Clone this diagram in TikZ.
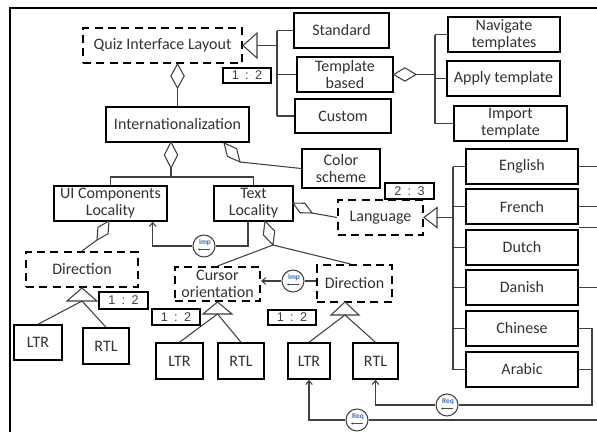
\documentclass[tikz,border=0pt]{standalone}
\usepackage{fontspec}
\setmainfont{Carlito}
\newfontfamily\ratiofont{Liberation Sans}
\usetikzlibrary{calc,arrows.meta}
\newcommand\dmd[3]{\draw[hollow] (#1) -- ($(#1)!0.5!(#2)!#3!90:(#2)$) -- (#2) -- ($(#1)!0.5!(#2)!#3!-90:(#2)$) -- cycle;}
\begin{document}
\begin{tikzpicture}[x=0.75pt,y=-0.75pt,
  basebox/.style={line width=1.1pt, draw=black, fill=white, text=black!80, inner sep=0pt, align=center, font=\fontsize{12}{12.8}\selectfont},
  sz/.style 2 args={minimum width=#1*0.75pt, minimum height=#2*0.75pt},
  dashbox/.style={basebox, line width=1.5pt, dash pattern=on 6pt off 4pt},
  ratio/.style={draw=black, line width=0.8pt, fill=white, inner sep=0pt, text=black!75, font=\fontsize{9.5}{10}\ratiofont},
  conn/.style={line width=0.8pt, draw=black!75},
  hollow/.style={conn, fill=white, line join=miter},
  circ/.style={circle, draw=black!75, line width=0.8pt, minimum size=22*0.75pt, inner sep=0pt, fill=white},
  tag/.style={inner sep=0pt, font=\fontsize{5.5}{5.5}\selectfont\bfseries, text={rgb,255:red,60;green,110;blue,190}},
  tagarrow/.style={line width=0.3pt, draw=black!70, -{Stealth[length=1.5pt,width=1.5pt]}},
  arr/.style={-{Straight Barb[length=3pt,width=5pt]}}
]
\useasboundingbox (0,0) rectangle (597,432);
\coordinate (R) at (597,0);
% frame
\draw[line width=1.6pt] (10,432) -- (10,8) -- (597,8);

% nodes
\node[dashbox, sz={159}{35}] (qil) at (162.5,45.5) {Quiz Interface Layout};
\node[basebox, sz={95}{35}] (std) at (341.5,30.5) {Standard};
\node[basebox, sz={96}{35}] (tpl) at (345,74.5) {Template\\based};
\node[basebox, sz={96}{34}] (cus) at (343,116) {Custom};
\node[basebox, sz={112}{35}] (nav) at (504,34.5) {Navigate\\templates};
\node[basebox, sz={113}{35}] (app) at (503.5,78.5) {Apply template};
\node[basebox, sz={113}{35}] (imt) at (510.5,123.5) {Import\\template};
\node[basebox, sz={143}{35}] (int) at (177.5,124.5) {Internationalization};
\node[basebox, sz={78}{39}] (col) at (341,168.5) {Color\\scheme};
\node[basebox, sz={113}{35}] (uic) at (110.5,203.5) {UI Components\\Locality};
\node[basebox, sz={79}{35}] (txl) at (253.5,203.5) {Text\\Locality};
\node[dashbox, sz={85}{35}] (lan) at (380.5,217.5) {Language};
\node[basebox, sz={112}{35}] (eng) at (522,166.5) {English};
\node[basebox, sz={112}{35}] (fre) at (522,206.5) {French};
\node[basebox, sz={112}{35}] (dut) at (522,247.5) {Dutch};
\node[basebox, sz={112}{35}] (dan) at (522,287.5) {Danish};
\node[basebox, sz={112}{35}] (chi) at (522,328.5) {Chinese};
\node[basebox, sz={112}{35}] (ara) at (522,369.5) {Arabic};
\node[dashbox, sz={112}{35}] (dirL) at (82,269.5) {Direction};
\node[dashbox, sz={85}{34}] (cur) at (217.5,284) {Cursor\\orientation};
\node[dashbox, sz={75}{37}] (dirR) at (354.5,283.5) {Direction};
\node[basebox, sz={48}{35}] (ltr1) at (38,342.5) {LTR};
\node[basebox, sz={46}{36}] (rtl1) at (106,346) {RTL};
\node[basebox, sz={47}{36}] (ltr2) at (179.5,361) {LTR};
\node[basebox, sz={46}{36}] (rtl2) at (241,361) {RTL};
\node[basebox, sz={42}{36}] (ltr3) at (309,361) {LTR};
\node[basebox, sz={45}{36}] (rtl3) at (375.5,361) {RTL};

\node[ratio, sz={48}{15}] (r1) at (247,75.5) {1\enspace:\enspace2};
\node[ratio, sz={49}{16}] (r2) at (409.5,191) {2\enspace:\enspace3};
\node[ratio, sz={49}{17}] (r3) at (123.5,300.5) {1\enspace:\enspace2};
\node[ratio, sz={48}{16}] (r4) at (176,317) {1\enspace:\enspace2};
\node[ratio, sz={48}{15}] (r5) at (292,317.5) {1\enspace:\enspace2};

% Quiz layout alternatives
\draw[hollow] (qil.east) -- (257,33) -- (257,58) -- cycle;
\coordinate (tq) at (257,45.5);
\coordinate (bq) at (277,45.5);
\draw[conn] (tq) -- (bq);
\draw[conn] (bq |- std.west) -- (bq |- cus.west);
\draw[conn] (bq |- std.west) -- (std.west);
\draw[conn] (bq |- tpl.west) -- (tpl.west);
\draw[conn] (bq |- cus.west) -- (cus.west);

% qil - int aggregation
\coordinate (dq1) at (qil.south -| int.north);
\coordinate (dq2) at (177.5,88);
\dmd{dq1}{dq2}{5pt}
\draw[conn] (dq2) -- (int.north);

% template based
\coordinate (dt2) at (416,74.5);
\coordinate (bt) at (435,74.5);
\dmd{tpl.east}{dt2}{5pt}
\draw[conn] (dt2) -- (bt);
\draw[conn] (bt |- nav.west) -- (bt |- imt.west);
\draw[conn] (bt |- nav.west) -- (nav.west);
\draw[conn] (bt |- app.west) -- (app.west);
\draw[conn] (bt |- imt.west) -- (imt.west);

% int children
\coordinate (di1) at (171,142);
\coordinate (di2) at (171,168);
\coordinate (bi) at (171,177);
\dmd{di1}{di2}{5pt}
\draw[conn] (di2) -- (bi);
\draw[conn] (uic.north) -- (uic.north |- bi) -- (txl.north |- bi) -- (txl.north);

% int - color scheme
\coordinate (dc1) at (224,143);
\coordinate (dc2) at (240,162);
\dmd{dc1}{dc2}{4.5pt}
\draw[conn] (dc2) -- (col.west);

% uic - direction
\coordinate (du1) at (109,221);
\coordinate (du2) at (97,240);
\dmd{du1}{du2}{4.5pt}
\draw[conn] (du2) -- (dirL.north);

% txl - cursor / direction
\coordinate (dx1) at (265,221);
\coordinate (dx2) at (273,245);
\dmd{dx1}{dx2}{4.5pt}
\draw[conn] (dx2) -- (cur.north);
\draw[conn] (dx2) -- ($(dirR.north)+(-4,0)$);

% txl - language
\coordinate (dl1) at (293,203);
\coordinate (dl2) at (312,213);
\dmd{dl1}{dl2}{4pt}
\draw[conn] (dl2) -- (lan.west);

% language alternatives
\draw[hollow] (lan.east) -- (437,207.5) -- (437,227.5) -- cycle;
\coordinate (tl) at (437,217.5);
\coordinate (bl) at (453,217.5);
\draw[conn] (tl) -- (bl);
\draw[conn] (bl |- eng.west) -- (bl |- ara.west);
\foreach \n in {eng,fre,dut,dan,chi,ara} { \draw[conn] (bl |- \n.west) -- (\n.west); }

% right stubs
\draw[conn] (eng.east) -- (eng.east -| R);
\draw[conn] (fre.east) -- (fre.east -| R);
\draw[conn] ($(dut.north east)+(0,-2)$) -- ($(dut.north east -| R)+(0,-2)$);
\draw[conn] (dan.east) -- (dan.east -| R);

% direction alternatives
\draw[hollow] (dirL.south) -- (67,301) -- (97,301) -- cycle;
\coordinate (tdl) at (82,301);
\draw[conn] (tdl) -- (ltr1.north);
\draw[conn] (tdl) -- (rtl1.north);

\draw[hollow] (cur.south) -- (203,314) -- (232,314) -- cycle;
\coordinate (tcu) at (217.5,314);
\draw[conn] (tcu) -- (ltr2.north);
\draw[conn] (tcu) -- (rtl2.north);

\coordinate (adr) at (345,302);
\draw[hollow] (adr) -- (331,315) -- (359,315) -- cycle;
\coordinate (tdr) at (345,315);
\draw[conn] (tdr) -- (ltr3.north);
\draw[conn] (tdr) -- (rtl3.north);

% implies / requires
\node[circ] (imp1) at (204,246) {};
\node[circ] (imp2) at (293,281) {};
\node[circ] (req1) at (447,405) {};
\node[circ] (req2) at (357,420) {};
\foreach \c/\t in {imp1/Imp,imp2/Imp,req1/Req,req2/Req} {
  \node[tag] (\c t) at ($(\c.center)+(1,-3)$) {\t};
  \draw[tagarrow] ($(\c.center)+(6,3.5)$) -- ($(\c.center)+(-6,3.5)$);
}

\draw[conn] ($(txl.south)+(-5.5,0)$) |- (imp1.east);
\draw[conn,arr] (imp1.west) -| ($(uic.south east)+(-15,0)$);
\draw[conn] (dirR.west |- imp2) -- (imp2.east);
\draw[conn,arr] (imp2.west) -- (cur.east |- imp2);

\coordinate (cr) at (592,405);
\draw[conn] (chi.east) -| (cr) -- (req1.east);
\draw[conn] (ara.east) -- (ara.east -| cr);
\draw[conn,arr] (req1.west) -| (rtl3.south);
\draw[conn] (req2.east -| R) -- (req2.east);
\draw[conn,arr] (req2.west) -| (ltr3.south);
\end{tikzpicture}
\end{document}
